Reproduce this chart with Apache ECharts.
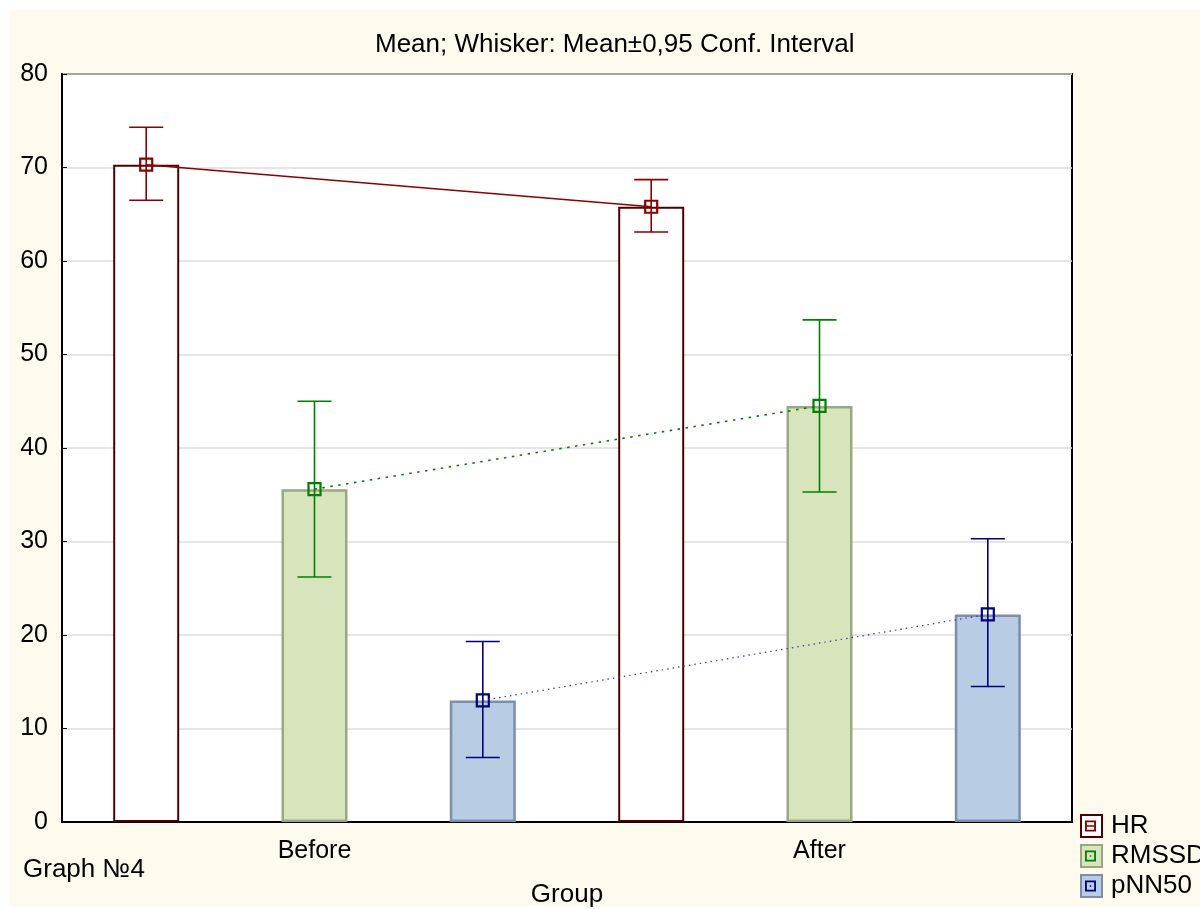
<!DOCTYPE html>
<html>
<head>
<meta charset="utf-8">
<script src="https://cdn.jsdelivr.net/npm/echarts@6/dist/echarts.min.js"></script>
<style>
  html, body { margin: 0; padding: 0; background: #ffffff; }
  #wrap { position: relative; width: 1200px; height: 909px; background: #ffffff; }
  #paper { position: absolute; left: 10px; top: 10px; width: 1190px; height: 896px; background: #fffaee; }
  #chart { position: absolute; left: 0; top: 0; width: 1200px; height: 909px; }
</style>
</head>
<body>
<div id="wrap">
  <div id="paper"></div>
  <div id="chart"></div>
</div>
<script>
// Groups on the x axis
const groups = ['Before', 'After'];
const yTicks = { min: 0, max: 80, step: 10 };

// Means per variable
const hrMean    = [70.3, 65.8];
const rmssdMean = [35.6, 44.5];
const pnnMean   = [13.0, 22.2];

// 95% confidence interval bounds
const hrLow     = [66.5, 63.1];
const hrHigh    = [74.3, 68.7];
const rmssdLow  = [26.2, 35.3];
const rmssdHigh = [45.0, 53.7];
const pnnLow    = [6.9, 14.5];
const pnnHigh   = [19.3, 30.3];

const FONT = "'Liberation Sans', Arial, sans-serif";
const BAR_W = 66;
const BAR_GAP = 1.55;   // gap between bars in a group, as a share of bar width

const chart = echarts.init(document.getElementById('chart'), null, { renderer: 'canvas' });

// Whiskers, mean markers and the line joining the means of one variable
function whiskerSeries(slot, means, lows, highs, color, joinStyle) {
  const offset = (slot - 1) * BAR_W * (1 + BAR_GAP);
  return {
    type: 'custom',
    coordinateSystem: 'cartesian2d',
    z: 5,
    clip: false,
    silent: true,
    encode: { x: 0, y: 1 },
    data: groups.map((g, i) => [i, means[i], lows[i], highs[i]]),
    renderItem: function (params, api) {
      const i = api.value(0);
      const m = api.coord([i, api.value(1)]);
      const lo = api.coord([i, api.value(2)]);
      const hi = api.coord([i, api.value(3)]);
      const x = m[0] + offset;
      const cap = 17;
      const children = [];
      if (i > 0) {
        const prev = api.coord([i - 1, means[i - 1]]);
        children.push({
          type: 'line',
          shape: { x1: prev[0] + offset, y1: prev[1], x2: x, y2: m[1] },
          style: Object.assign({ fill: null }, joinStyle)
        });
      }
      const ws = { stroke: color, lineWidth: 1.6, fill: null };
      children.push({ type: 'line', shape: { x1: x, y1: hi[1], x2: x, y2: lo[1] }, style: ws });
      children.push({ type: 'line', shape: { x1: x - cap, y1: hi[1], x2: x + cap, y2: hi[1] }, style: ws });
      children.push({ type: 'line', shape: { x1: x - cap, y1: lo[1], x2: x + cap, y2: lo[1] }, style: ws });
      children.push({
        type: 'rect',
        shape: { x: x - 6, y: m[1] - 6, width: 12, height: 12 },
        style: { stroke: color, lineWidth: 2.2, fill: null }
      });
      return { type: 'group', children: children };
    }
  };
}

const iconLine = 'path://M0,0H12V12H0Z M2,2V10H10V2Z M2,5.3H10V6.7H2Z';
const iconDot  = 'path://M0,0H12V12H0Z M2,2V10H10V2Z M5.2,5.2H6.8V6.8H5.2Z';

const option = {
  animation: false,
  textStyle: { fontFamily: FONT },
  title: {
    text: 'Mean; Whisker: Mean±0,95 Conf. Interval',
    left: 375,
    top: 32,
    padding: 0,
    textStyle: { fontFamily: FONT, fontSize: 26, fontWeight: 'normal', color: '#000' }
  },
  graphic: [{
    type: 'text',
    left: 23,
    top: 857,
    style: { text: 'Graph №4', font: '26px ' + FONT, fill: '#000' }
  }],
  legend: [{
    orient: 'vertical',
    left: 1080,
    top: 813,
    padding: 0,
    itemWidth: 21,
    itemHeight: 22,
    itemGap: 4,
    selectedMode: false,
    textStyle: { fontFamily: FONT, fontSize: 26, color: '#000', padding: [0, 0, 0, 4] },
    data: [
      { name: 'HR', icon: 'rect' },
      { name: 'RMSSD', icon: 'rect' },
      { name: 'pNN50', icon: 'rect' }
    ]
  }, {
    orient: 'vertical',
    left: 1085,
    top: 820.5,
    padding: 0,
    itemWidth: 11,
    itemHeight: 11,
    itemGap: 19,
    selectedMode: false,
    textStyle: { fontSize: 1, color: 'rgba(0,0,0,0)' },
    data: [
      { name: 'HR', icon: iconLine, itemStyle: { color: '#8b0000', borderWidth: 0 } },
      { name: 'RMSSD', icon: iconDot, itemStyle: { color: '#008000', borderWidth: 0 } },
      { name: 'pNN50', icon: iconDot, itemStyle: { color: '#000080', borderWidth: 0 } }
    ]
  }],
  grid: {
    left: 62, right: 128, top: 74, bottom: 87,
    outerBoundsMode: 'none',
    containLabel: false,
    show: true,
    backgroundColor: '#ffffff',
    borderColor: '#000000',
    borderWidth: 2
  },
  xAxis: {
    type: 'category',
    data: groups,
    name: 'Group',
    nameLocation: 'middle',
    nameGap: 60,
    nameTextStyle: { fontFamily: FONT, fontSize: 26, color: '#000' },
    axisLine: { lineStyle: { color: '#000', width: 2 } },
    axisTick: { inside: true, alignWithLabel: true, length: 5, lineStyle: { color: '#000' } },
    axisLabel: { fontFamily: FONT, fontSize: 25, color: '#000', margin: 17 },
    splitLine: { show: false }
  },
  yAxis: {
    type: 'value',
    min: yTicks.min,
    max: yTicks.max,
    interval: yTicks.step,
    axisLine: { show: true, lineStyle: { color: '#000', width: 2 } },
    axisTick: { show: true, inside: true, length: 5, lineStyle: { color: '#000' } },
    axisLabel: { fontFamily: FONT, fontSize: 25, color: '#000', margin: 14 },
    splitLine: { show: true, lineStyle: { color: '#dcdcdc', width: 1.5 } }
  },
  series: [
    {
      name: 'HR', type: 'bar', barWidth: BAR_W, barGap: (BAR_GAP * 100) + '%',
      data: hrMean,
      itemStyle: { color: '#ffffff', borderColor: '#4e0000', borderWidth: 2 }
    },
    {
      name: 'RMSSD', type: 'bar', barWidth: BAR_W, barGap: (BAR_GAP * 100) + '%',
      data: rmssdMean,
      itemStyle: { color: '#d8e4bc', borderColor: '#9aa882', borderWidth: 2.5 }
    },
    {
      name: 'pNN50', type: 'bar', barWidth: BAR_W, barGap: (BAR_GAP * 100) + '%',
      data: pnnMean,
      itemStyle: { color: '#b8cce4', borderColor: '#7b8fa8', borderWidth: 2.5 }
    },
    whiskerSeries(0, hrMean, hrLow, hrHigh, '#8b0000',
      { stroke: '#8b0000', lineWidth: 1.6 }),
    whiskerSeries(1, rmssdMean, rmssdLow, rmssdHigh, '#008000',
      { stroke: '#008000', lineWidth: 1.6, lineDash: [2.5, 5.5] }),
    whiskerSeries(2, pnnMean, pnnLow, pnnHigh, '#000080',
      { stroke: '#3a3aa8', lineWidth: 1.2, lineDash: [1.5, 4] })
  ]
};

chart.setOption(option);
</script>
</body>
</html>
